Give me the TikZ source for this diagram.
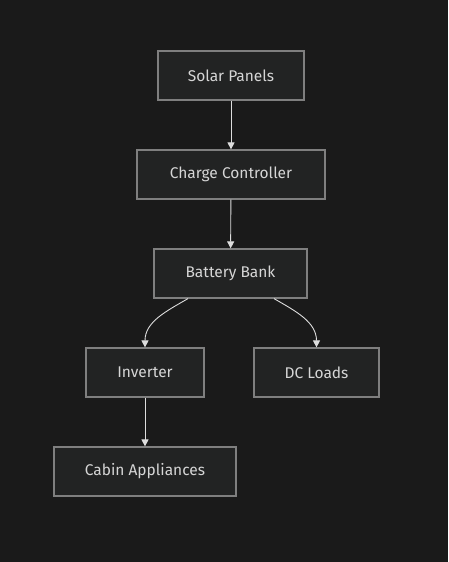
\documentclass[tikz,border=0pt]{standalone}
\usepackage{fontspec}
\setmainfont{Fira Sans}
\usetikzlibrary{arrows.meta}
\definecolor{bgc}{HTML}{1A1A1A}
\definecolor{boxfill}{HTML}{222323}
\definecolor{boxline}{HTML}{7F7F7F}
\definecolor{txt}{HTML}{D6D6D6}
\definecolor{edge}{HTML}{DDDDDD}
\begin{document}
\begin{tikzpicture}[x=1pt,y=-1pt,
  box/.style={draw=boxline, fill=boxfill, line width=1.2pt, text=txt, inner sep=0pt,
    font=\fontsize{15.5}{18}\selectfont, minimum height=49pt},
  link/.style={draw=edge, line width=0.9pt, -{Triangle[length=7pt,width=7pt]}}]
\fill[bgc] (0,0) rectangle (448,562);
\useasboundingbox (0,0) rectangle (448,562);
\node[box, minimum width=146pt] (sp) at (231,75.5) {Solar Panels};
\node[box, minimum width=188pt] (cc) at (231,174.5) {Charge Controller};
\node[box, minimum width=153pt] (bb) at (230.5,273.5) {Battery Bank};
\node[box, minimum width=118pt] (inv) at (145,372.5) {Inverter};
\node[box, minimum width=125pt] (dc) at (316.5,372.5) {DC Loads};
\node[box, minimum width=182pt] (ca) at (145,471.5) {Cabin Appliances};
\draw[link] (sp) -- (cc);
\draw[link] (cc) -- (bb);
\draw[link] ([xshift=-42.5pt]bb.south) to[out=-150,in=90] (inv.north);
\draw[link] ([xshift=43.5pt]bb.south) to[out=-30,in=90] (dc.north);
\draw[link] (inv) -- (ca);
\end{tikzpicture}
\end{document}
